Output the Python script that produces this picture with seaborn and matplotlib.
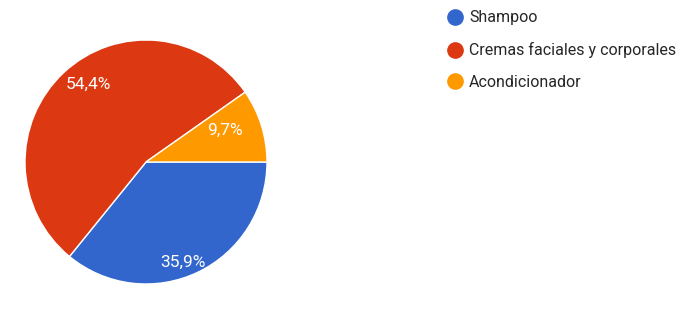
import matplotlib
matplotlib.use("Agg")
import numpy as np
import matplotlib.pyplot as plt
from matplotlib.lines import Line2D
import seaborn as sns

categories = ["Shampoo", "Cremas faciales y corporales", "Acondicionador"]
percentages = [35.9, 54.4, 9.7]
colors = ["#3366cc", "#dc3912", "#ff9900"]

sns.set_theme(style="white")
plt.rcParams["font.family"] = ["Roboto", "DejaVu Sans"]

fig = plt.figure(figsize=(6.97, 3.13), dpi=100)
ax = fig.add_axes([25 / 697, 29 / 313, 242 / 697, 244 / 313])

wedges, texts, autotexts = ax.pie(
    percentages,
    colors=colors,
    startangle=0,
    counterclock=False,
    autopct=lambda p: f"{p:.1f}%".replace(".", ","),
    pctdistance=0.8,
    wedgeprops=dict(edgecolor="white", linewidth=1),
    textprops=dict(color="white", fontsize=12.5),
)
# place labels roughly where the original puts them (radius, angle shift)
for w, t, (r, shift) in zip(wedges, autotexts, [(0.88, -5), (0.80, -6), (0.70, 4.5)]):
    mid = np.deg2rad((w.theta1 + w.theta2) / 2 + shift)
    t.set_position((r * np.cos(mid), r * np.sin(mid)))

ax.set_xlim(-1, 1)
ax.set_ylim(-1, 1)
ax.set_aspect("auto")
ax.axis("off")

handles = [Line2D([], [], marker="o", linestyle="", markersize=11,
                  markerfacecolor=c, markeredgecolor=c) for c in colors]
fig.legend(handles, categories, loc="upper left",
           bbox_to_anchor=(437 / 697, 1 - 4 / 313), frameon=False,
           fontsize=11.5, handletextpad=0.1, labelspacing=1.05,
           handlelength=1.5, borderaxespad=0)

fig.savefig("out.png", dpi=100, facecolor="white")
